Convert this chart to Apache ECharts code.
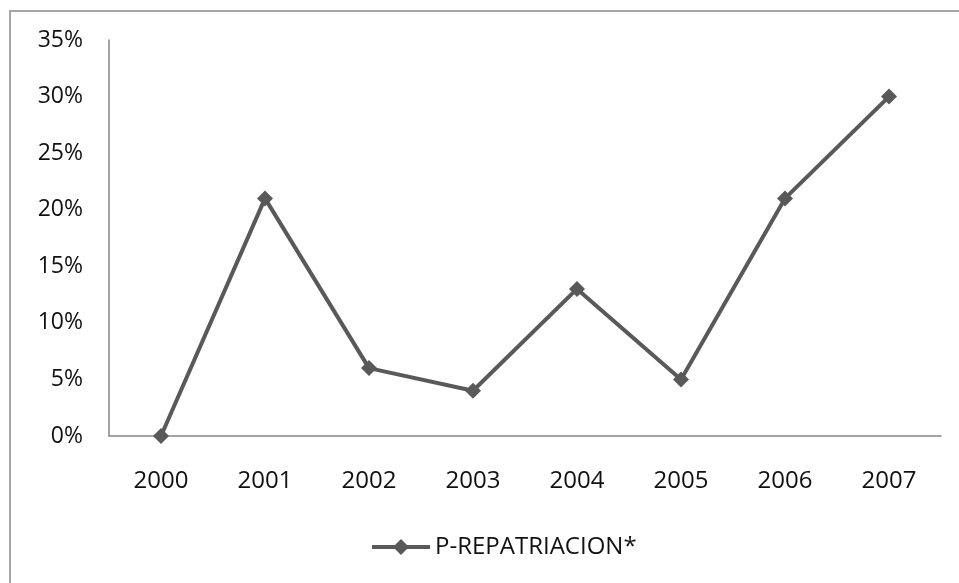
<!DOCTYPE html>
<html>
<head>
<meta charset="utf-8">
<script src="https://cdn.jsdelivr.net/npm/echarts@6/dist/echarts.min.js"></script>
<style>
  html, body { margin: 0; padding: 0; background: #fff; }
  #main { width: 959px; height: 583px; }
</style>
</head>
<body>
<div id="main"></div>
<script>
// datos del grafico
var years = ['2000', '2001', '2002', '2003', '2004', '2005', '2006', '2007'];
var repatriacion = [0, 21, 6, 4, 13, 5, 21, 30];
var seriesName = 'P-REPATRIACION*';

var myChart = echarts.init(document.getElementById('main'));

var option = {
    animation: false,
    backgroundColor: '#fff',
    textStyle: { fontFamily: '"Open Sans", "DejaVu Sans", sans-serif' },
    graphic: [
        {
            // marco exterior (solo se ven el borde izquierdo y superior)
            type: 'rect',
            shape: { x: 10, y: 11, width: 1000, height: 1000 },
            style: { fill: 'none', stroke: '#a6a6a6', lineWidth: 2 }
        }
    ],
    grid: { left: 109, top: 40, width: 832, height: 396, containLabel: false },
    legend: {
        top: 530,
        left: 365,
        itemWidth: 58,
        itemHeight: 20,
        itemGap: 2,
        lineStyle: { width: 4 },
        textStyle: { fontSize: 24, color: '#111' },
        data: [seriesName]
    },
    xAxis: {
        type: 'category',
        data: years,
        boundaryGap: true,
        axisLine: { lineStyle: { color: '#868686', width: 1.5 } },
        axisTick: { show: false },
        axisLabel: { fontSize: 24, color: '#111', margin: 33 }
    },
    yAxis: {
        type: 'value',
        min: 0,
        max: 35,
        interval: 5,
        splitLine: { show: false },
        axisLine: { show: true, lineStyle: { color: '#868686', width: 1.5 } },
        axisTick: { show: false },
        axisLabel: { fontSize: 23, color: '#111', margin: 26, formatter: '{value}%' }
    },
    series: [
        {
            name: seriesName,
            type: 'line',
            data: repatriacion,
            symbol: 'diamond',
            symbolSize: 16,
            lineStyle: { color: '#595959', width: 4 },
            itemStyle: { color: '#595959' }
        }
    ]
};

myChart.setOption(option);
</script>
</body>
</html>
